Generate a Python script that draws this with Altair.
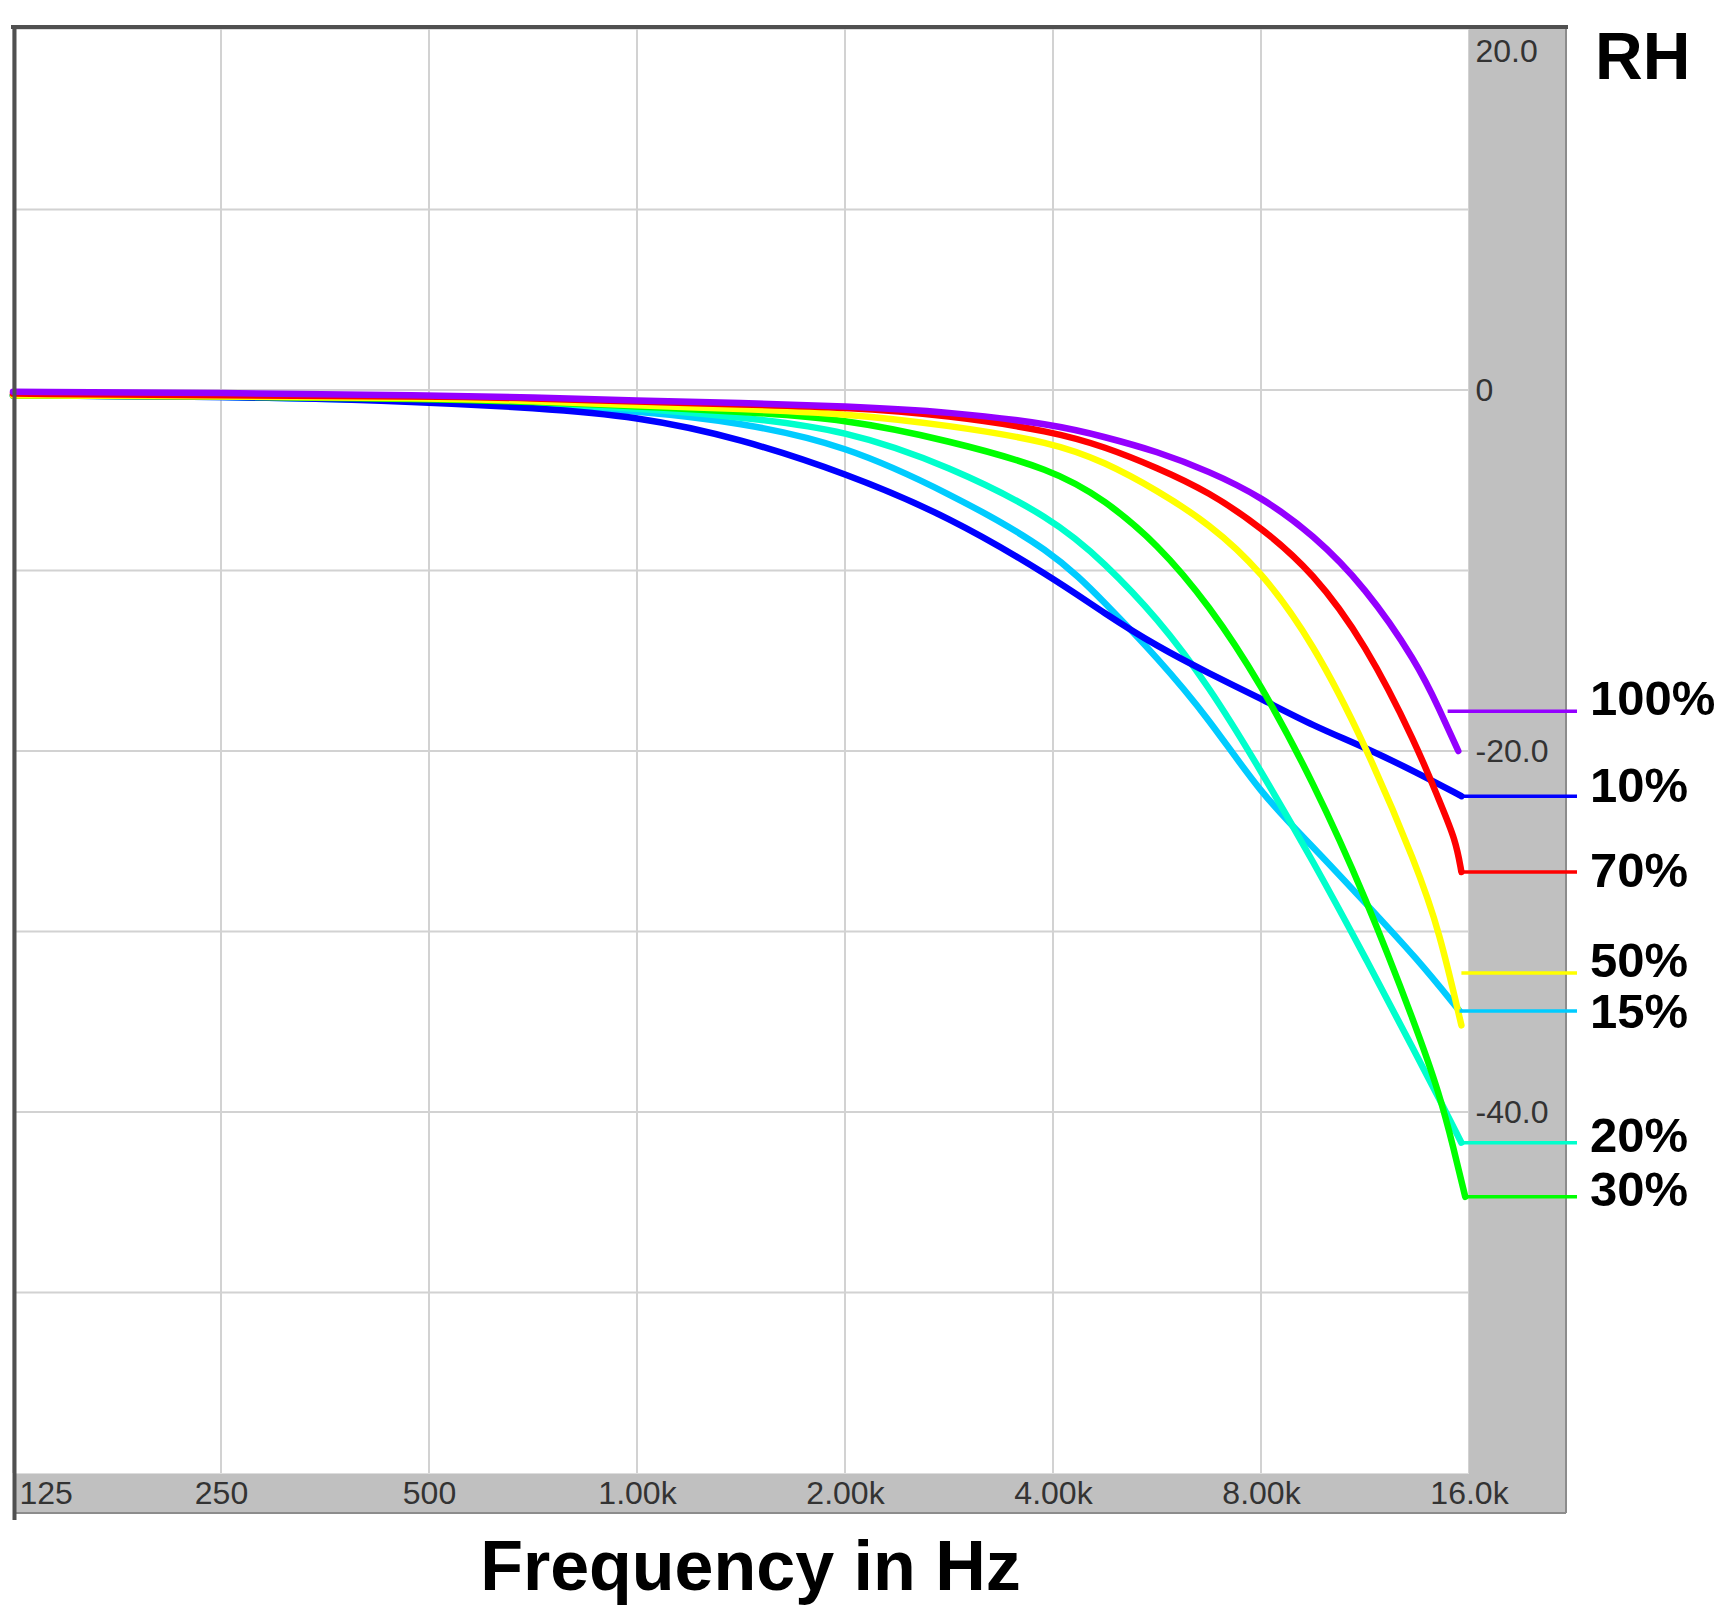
import altair as alt
import pandas as pd

# ---------------- data ----------------
freq_common = [125, 250, 500, 707, 1000, 1414, 2000, 2828, 4000, 4757, 5657,
               6727, 8000, 9514, 11314, 13454]

db_100 = [-0.1, -0.15, -0.3, -0.4, -0.6, -0.7, -0.9, -1.2, -1.9, -2.6, -3.4,
          -4.5, -5.9, -8.0, -10.9, -15.1]
tail_f_100, tail_db_100 = [14500, 15440], [-17.7, -20.0]

db_70 = [-0.2, -0.3, -0.35, -0.45, -0.65, -0.8, -0.95, -1.4, -2.3, -3.15, -4.3,
         -5.65, -7.6, -10.1, -14.0, -19.7]
tail_f_70, tail_db_70 = [14500, 15300, 15600], [-22.8, -24.9, -26.7]

db_50 = [-0.3, -0.35, -0.45, -0.6, -0.85, -1.05, -1.3, -1.95, -2.9, -4.0, -5.55,
         -7.4, -10.0, -14.0, -19.6, -26.4]
tail_f_50, tail_db_50 = [14500, 15600], [-30.0, -35.2]

db_30 = [-0.3, -0.35, -0.5, -0.65, -0.9, -1.2, -1.6, -2.8, -4.4, -6.1, -8.5,
         -11.9, -16.3, -21.7, -28.0, -35.4]
tail_f_30, tail_db_30 = [14500, 15200, 15800], [-39.0, -42.0, -44.7]

db_20 = [-0.3, -0.35, -0.55, -0.75, -1.0, -1.5, -2.2, -4.2, -7.1, -9.6, -12.6,
         -16.4, -21.1, -26.1, -31.4, -36.9]
tail_f_20, tail_db_20 = [14500, 15600], [-39.3, -41.7]

db_15 = [-0.3, -0.35, -0.6, -0.85, -1.15, -1.8, -3.05, -5.7, -8.9, -11.8, -14.8,
         -18.2, -22.4, -25.3, -28.4, -31.5]
tail_f_15, tail_db_15 = [15500], [-34.4]

db_10 = [-0.3, -0.35, -0.65, -1.0, -1.45, -2.7, -4.6, -7.0, -10.4, -12.4, -14.2,
         -15.7, -17.1, -18.6, -19.8, -21.2]
tail_f_10, tail_db_10 = [15600], [-22.5]

series_order = ["15%", "20%", "10%", "30%", "50%", "70%", "100%"]
series_colors = ["#00ccff", "#00ffcc", "#0000ff", "#00ff00", "#ffff00", "#ff0000", "#9400ff"]

label_names = ["100%", "10%", "70%", "50%", "15%", "20%", "30%"]
label_line_db = [-17.8, -22.5, -26.7, -32.3, -34.4, -41.7, -44.7]
label_text_db = [-17.2, -22.0, -26.7, -31.7, -34.5, -41.4, -44.4]
label_line_start = [14900, 15600, 15600, 15600, 15500, 15600, 15800]

x_tick_values = [125, 250, 500, 1000, 2000, 4000, 8000, 16000]
x_tick_labels = ["125", "250", "500", "1.00k", "2.00k", "4.00k", "8.00k", "16.0k"]
y_label_values = [20, 0, -20, -40]
y_label_texts = ["20.0", "0", "-20.0", "-40.0"]
grid_db = [10, 0, -10, -20, -30, -40, -50]

# ---------------- tables ----------------
curves = {
    "100%": (freq_common + tail_f_100, db_100 + tail_db_100),
    "70%": (freq_common + tail_f_70, db_70 + tail_db_70),
    "50%": (freq_common + tail_f_50, db_50 + tail_db_50),
    "30%": (freq_common + tail_f_30, db_30 + tail_db_30),
    "20%": (freq_common + tail_f_20, db_20 + tail_db_20),
    "15%": (freq_common + tail_f_15, db_15 + tail_db_15),
    "10%": (freq_common + tail_f_10, db_10 + tail_db_10),
}
rows = []
for name in series_order:
    fs, ds = curves[name]
    for f, d in zip(fs, ds):
        rows.append({"series": name, "freq": f, "db": d})
df = pd.DataFrame(rows)

labels_df = pd.DataFrame({
    "series": label_names,
    "db": label_line_db,
    "db_text": label_text_db,
    "freq": label_line_start,
})
vgrid_df = pd.DataFrame({"freq": x_tick_values})
hgrid_df = pd.DataFrame({"db": grid_db})
one = pd.DataFrame({"k": [0]})

FONT = "Liberation Sans"
TICK_FONT = "Liberation Sans"
W, H = 1456, 1444

xscale = alt.Scale(type="log", domain=[125, 16000], nice=False)
yscale = alt.Scale(domain=[-60, 20], nice=False, zero=False)
cscale = alt.Scale(domain=series_order, range=series_colors)

x_expr = " : ".join(
    f"datum.value == {v} ? '{t}'" for v, t in zip(x_tick_values, x_tick_labels)
) + " : ''"
y_expr = " : ".join(
    f"datum.value == {v} ? '{t}'" for v, t in zip(y_label_values, y_label_texts)
) + " : ''"

x_axis = alt.Axis(
    values=x_tick_values, labelExpr=x_expr, ticks=False, domain=False,
    grid=False, labelFlush=False, labelOverlap=False, labelBound=False,
    labelAlign={"condition": {"test": "datum.value == 125", "value": "left"},
                "value": "center"},
    labelOffset={"condition": {"test": "datum.value == 125", "value": 6},
                 "value": 0},
    labelFontSize=32, labelFont=TICK_FONT, labelColor="#333333", labelPadding=5,
    title="Frequency in Hz", titleFontSize=70, titleFont=FONT,
    titleFontWeight="bold", titleColor="#000000", titleX=737, titleY=116,
    titleBaseline="alphabetic", titleAlign="center", zindex=1,
)
y_axis = alt.Axis(
    orient="right", values=y_label_values, labelExpr=y_expr, ticks=False,
    domain=False, grid=False, labelAlign="left", labelPadding=6,
    labelOverlap=False, labelFlush=False,
    labelOffset={"condition": {"test": "datum.value == 20", "value": 22},
                 "value": 0},
    labelFontSize=32, labelFont=TICK_FONT, labelColor="#333333", title=None,
    zindex=1,
)

# ---------------- layers ----------------
vgrid = alt.Chart(vgrid_df).mark_rule(color="#d2d2d2", strokeWidth=2).encode(
    x=alt.X("freq:Q", scale=xscale, axis=x_axis)
)
hgrid = alt.Chart(hgrid_df).mark_rule(color="#d2d2d2", strokeWidth=2).encode(
    y=alt.Y("db:Q", scale=yscale, axis=y_axis)
)

gray_right = alt.Chart(one).mark_rect(color="#c0c0c0").encode(
    x=alt.value(W), x2=alt.value(W + 97), y=alt.value(0), y2=alt.value(H + 40)
)
gray_bottom = alt.Chart(one).mark_rect(color="#c0c0c0").encode(
    x=alt.value(0), x2=alt.value(W + 97), y=alt.value(H + 1), y2=alt.value(H + 40)
)
edge_right = alt.Chart(one).mark_rule(color="#8c8c8c", strokeWidth=2).encode(
    x=alt.value(W + 97), y=alt.value(0), y2=alt.value(H + 40)
)
edge_bottom = alt.Chart(one).mark_rule(color="#8c8c8c", strokeWidth=2).encode(
    x=alt.value(0), x2=alt.value(W + 97), y=alt.value(H + 40)
)
frame_top = alt.Chart(one).mark_rule(color="#505050", strokeWidth=4).encode(
    x=alt.value(-2), x2=alt.value(W + 99), y=alt.value(-2)
)
frame_left = alt.Chart(one).mark_rule(color="#505050", strokeWidth=4).encode(
    x=alt.value(1.5), y=alt.value(-4), y2=alt.value(H + 47)
)

lines = alt.Chart(df).mark_line(
    strokeWidth=6.5, interpolate="basis", strokeJoin="round", strokeCap="round"
).encode(
    x=alt.X("freq:Q", scale=xscale, axis=x_axis),
    y=alt.Y("db:Q", scale=yscale, axis=y_axis),
    color=alt.Color("series:N", scale=cscale, legend=None),
    detail="series:N",
)

leaders = alt.Chart(labels_df).mark_rule(strokeWidth=3.5).encode(
    x=alt.X("freq:Q", scale=xscale, axis=x_axis),
    x2=alt.value(1564),
    y=alt.Y("db:Q", scale=yscale, axis=y_axis),
    color=alt.Color("series:N", scale=cscale, legend=None),
)
label_text = alt.Chart(labels_df).mark_text(
    align="left", baseline="middle", font=FONT, fontSize=49, fontWeight="bold",
    color="#000000",
).encode(
    x=alt.value(1577),
    y=alt.Y("db_text:Q", scale=yscale, axis=y_axis),
    text="series:N",
)
rh_text = alt.Chart(one).mark_text(
    align="left", baseline="alphabetic", font=FONT, fontSize=66, fontWeight="bold",
    color="#000000", text="RH",
).encode(x=alt.value(1582), y=alt.value(50))

chart = alt.layer(
    vgrid, hgrid, gray_right, gray_bottom, edge_right, edge_bottom,
    lines, leaders, frame_top, frame_left, label_text, rh_text,
).properties(
    width=W, height=H,
    autosize=alt.AutoSizeParams(type="none"),
    padding={"left": 5, "top": 21, "right": 252, "bottom": 133},
).configure_view(stroke=None).configure(background="white")

chart.save("out.html", embed_options={"renderer": "svg", "actions": False})
